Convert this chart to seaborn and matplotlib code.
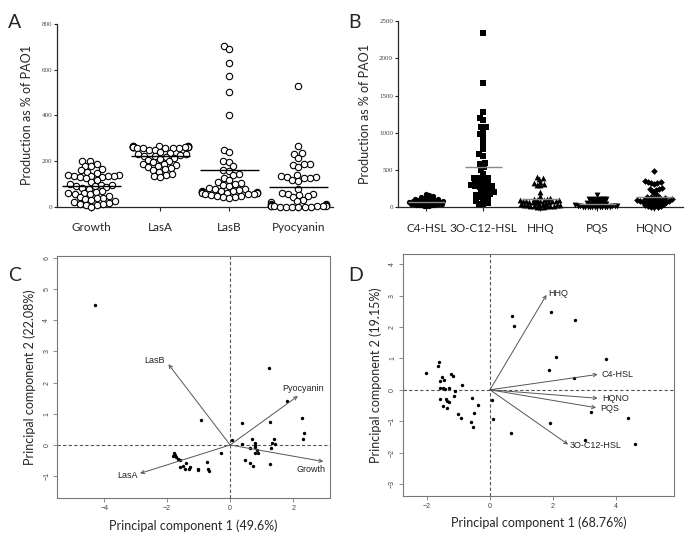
import warnings
import numpy as np
import pandas as pd
import matplotlib
matplotlib.use('Agg')
import matplotlib.pyplot as plt
import seaborn as sns

warnings.filterwarnings('ignore')

# ---- Panel A: virulence phenotypes (% of PAO1) ----
cats_a = ['Growth', 'LasA', 'LasB', 'Pyocyanin']
growth = [203, 200, 188, 180, 178, 165, 160, 155, 150, 140, 138, 137, 136, 135, 134,
          133, 130, 125, 120, 110, 100, 98, 95, 92, 90, 88, 85, 80, 70, 65, 62, 60,
          58, 55, 50, 45, 40, 38, 35, 30, 25, 20, 18, 15, 12, 10, 8, 2]
lasa = [268, 267, 266, 265, 265, 264, 264, 263, 263, 262, 262, 261, 261, 260, 260,
        259, 258, 258, 250, 248, 240, 235, 232, 230, 228, 225, 222, 220, 215, 210,
        205, 200, 195, 190, 188, 185, 180, 175, 170, 165, 160, 155, 145, 140, 135, 130]
lasb = [703, 692, 630, 573, 503, 402, 250, 242, 200, 196, 178, 160, 158, 142, 138,
        125, 118, 108, 103, 100, 95, 90, 85, 80, 78, 75, 72, 70, 68, 66, 65, 64, 63,
        62, 61, 60, 58, 56, 55, 52, 50, 48, 45, 42, 40]
pyocyanin = [530, 268, 236, 232, 214, 190, 188, 185, 175, 140, 135, 133, 130, 128,
             125, 120, 115, 78, 62, 58, 55, 52, 48, 45, 30, 25, 20, 15, 12, 10, 8, 7,
             6, 5, 5, 4, 3, 3, 2, 2, 1, 1, 0, 0]

# ---- Panel B: quorum sensing signals (% of PAO1) ----
cats_b = ['C4-HSL', '3O-C12-HSL', 'HHQ', 'PQS', 'HQNO']
c4hsl = [185, 160, 150, 145, 140, 130, 125, 120, 115, 110, 105, 100, 98, 95, 92, 90,
         88, 85, 82, 80, 78, 75, 72, 70, 68, 65, 62, 60, 58, 55, 52, 50, 48, 45, 42,
         40, 38, 35, 32, 30, 28, 25, 22, 20, 15]
oc12hsl = [2340, 1675, 1280, 1205, 1170, 1080, 1075, 1030, 985, 950, 860, 780, 715,
           690, 600, 580, 545, 500, 450, 400, 400, 395, 390, 340, 330, 320, 310, 300,
           290, 280, 270, 260, 250, 210, 200, 180, 170, 160, 145, 130, 110, 90, 60, 50, 40]
hhq = [410, 390, 380, 340, 320, 310, 300, 295, 200, 150, 120, 110, 105, 100, 98, 95,
       92, 90, 88, 85, 82, 80, 75, 70, 65, 60, 55, 50, 45, 40, 35, 30, 28, 25, 22, 20,
       18, 15, 12, 10, 8, 5]
pqs = [160, 115, 112, 110, 108, 105, 100, 95, 90, 85, 80, 75, 70, 65, 60, 55, 50, 45,
       40, 38, 35, 32, 30, 28, 25, 22, 20, 18, 15, 12, 10, 8, 6, 5, 4, 3, 2, 2, 1, 1, 0, 0]
hqno = [490, 350, 345, 335, 330, 320, 310, 255, 250, 240, 230, 215, 190, 160, 145,
        140, 130, 125, 120, 115, 110, 105, 100, 98, 95, 90, 88, 85, 80, 75, 70, 65,
        60, 55, 50, 45, 40, 30, 20, 15, 10, 8, 5]
markers_b = ['o', 's', '^', 'v', 'D']
msize_b = [3.8, 3.8, 4.2, 4.2, 3.4]
swarm_size_b = [1.8, 3.1, 2.3, 1.7, 2.3]

# ---- Panel C: PCA of phenotypes ----
pc1_c = [-4.29, 1.22, 1.80, 2.28, 2.35, 2.31, 1.27, 0.39, -0.93, 0.05, 0.37, 0.69,
         0.79, 0.79, 0.79, 0.63, 0.85, 0.79, 0.87, 1.38, 1.32, 1.43, 1.29, 1.27, 0.46,
         0.63, 0.74, -0.30, -0.74, -0.69, -0.66, -1.01, -1.32, -1.59, -1.43, -1.41,
         -1.27, -1.78, -1.75, -1.71, -1.80, -1.59, -1.50, -1.66, -1.01]
pc2_c = [4.49, 2.46, 1.42, 0.88, 0.37, 0.18, 0.75, 0.72, 0.80, 0.16, 0.04, 0.18,
         0.07, 0.00, -0.05, -0.09, -0.16, -0.25, -0.27, 0.18, 0.05, 0.03, -0.11, -0.61,
         -0.48, -0.57, -0.67, -0.25, -0.56, -0.78, -0.83, -0.77, -0.77, -0.70, -0.78,
         -0.57, -0.72, -0.27, -0.32, -0.40, -0.35, -0.48, -0.67, -0.46, -0.80]
load_names_c = ['LasB', 'Pyocyanin', 'Growth', 'LasA']
load_x_c = [-1.96, 2.15, 2.96, -2.86]
load_y_c = [2.59, 1.57, -0.53, -0.91]

# ---- Panel D: PCA of signals ----
pc1_d = [0.70, 0.77, -2.04, -1.62, -1.66, -1.52, -1.45, -1.60, -1.24, -1.19, -0.90,
         -1.60, -1.48, -1.42, -1.32, -1.10, -1.14, -1.58, -1.40, -1.38, -1.32, -1.48,
         -1.37, -0.56, -0.39, -0.50, -1.01, -0.91, -0.59, -0.55, 0.07, 0.11, 0.68,
         1.94, 2.70, 2.10, 1.89, 3.69, 2.68, 3.21, 4.39, 1.90, 3.04, 4.63]
pc2_d = [2.36, 2.04, 0.52, 0.87, 0.76, 0.40, 0.32, 0.27, 0.49, 0.44, 0.15, 0.06, 0.06,
         0.04, 0.07, -0.04, -0.21, -0.28, -0.28, -0.37, -0.38, -0.52, -0.58, -0.25,
         -0.47, -0.75, -0.77, -0.90, -1.02, -1.18, -0.33, -0.93, -1.36, 2.47, 2.22,
         1.03, 0.64, 0.97, 0.37, -0.72, -0.91, -1.06, -1.60, -1.72]
load_names_d = ['HHQ', 'C4-HSL', 'HQNO', 'PQS', '3O-C12-HSL']
load_x_d = [1.80, 3.43, 3.43, 3.38, 2.49]
load_y_d = [3.02, 0.49, -0.27, -0.57, -1.74]

sns.set_style('ticks')
plt.rcParams['font.family'] = ['Lato', 'DejaVu Sans']

fig = plt.figure(figsize=(6.85, 5.4), dpi=100)
ax_a = fig.add_axes([0.0832, 0.6167, 0.4029, 0.3389])
ax_b = fig.add_axes([0.5810, 0.6161, 0.4160, 0.3446])
ax_c = fig.add_axes([0.0836, 0.0772, 0.3981, 0.4487])
ax_d = fig.add_axes([0.5883, 0.0820, 0.3961, 0.4476])


def freeze_swarms(colls, sizes):
    # run the beeswarm layout once with small markers, then keep those
    # positions and show the markers bigger (overlapping, as in Prism)
    fig.canvas.draw()
    for coll, s in zip(colls, sizes):
        if 'draw' in coll.__dict__:
            del coll.draw
        coll.set_sizes([s ** 2])
        coll.set_clip_on(False)


# --- A ---
df_a = pd.DataFrame({
    'measure': sum([[c] * len(v) for c, v in zip(cats_a, [growth, lasa, lasb, pyocyanin])], []),
    'value': growth + lasa + lasb + pyocyanin,
})
ax_a.set_ylim(0, 800)
n0 = len(ax_a.collections)
sns.swarmplot(data=df_a, x='measure', y='value', order=cats_a, ax=ax_a,
              color='white', edgecolor='black', linewidth=0.8, size=3.4)
colls_a = ax_a.collections[n0:]
ax_a.set_xlim(-0.5, 3.5)
ax_a.set_ylim(0, 800)
freeze_swarms(colls_a, [4.6] * len(colls_a))
for i, c in enumerate(cats_a):
    m = df_a.loc[df_a.measure == c, 'value'].mean()
    ax_a.hlines(m, i - 0.43, i + 0.43, color='black', lw=1.0, zorder=5)
ax_a.set_yticks([0, 200, 400, 600, 800])
ax_a.set_xlabel('')
ax_a.set_ylabel('Production as % of PAO1', fontsize=9, labelpad=6)

# --- B ---
vals_b = [c4hsl, oc12hsl, hhq, pqs, hqno]
ax_b.set_ylim(0, 2500)
colls_b, sizes_b = [], []
for c, v, mk, ss, ms in zip(cats_b, vals_b, markers_b, swarm_size_b, msize_b):
    n0 = len(ax_b.collections)
    sns.swarmplot(x=[c] * len(v), y=v, order=cats_b, ax=ax_b, marker=mk,
                  color='black', linewidth=0, size=ss)
    new = [cl for cl in ax_b.collections[n0:] if len(cl.get_offsets()) > 0]
    colls_b += new
    sizes_b += [ms] * len(new)
ax_b.set_xlim(-0.5, 4.5)
ax_b.set_ylim(0, 2500)
freeze_swarms(colls_b, sizes_b)
for i, v in enumerate(vals_b):
    ax_b.hlines(np.mean(v), i - 0.32, i + 0.32, color='#888888', lw=1.0, zorder=5)
ax_b.set_yticks([0, 500, 1000, 1500, 2000, 2500])
ax_b.set_xlabel('')
ax_b.set_ylabel('Production as % of PAO1', fontsize=9, labelpad=6)

for ax in (ax_a, ax_b):
    sns.despine(ax=ax)
    ax.spines['left'].set_linewidth(0.9)
    ax.spines['bottom'].set_linewidth(0.9)
    ax.tick_params(axis='x', labelsize=8.5, length=3, width=0.8, pad=8)
    ax.tick_params(axis='y', length=2.5, width=0.8, pad=1)
    for t in ax.get_yticklabels():
        t.set_fontfamily('Liberation Serif')
        t.set_fontsize(5)
        t.set_color('#444444')
for t in ax_b.get_xticklabels():
    t.set_fontfamily(['Liberation Sans Narrow', 'Lato'])
    t.set_fontsize(8.5)


def biplot(ax, xs, ys, names, lx, ly, label_pos):
    ax.axhline(0, color='#555555', lw=0.8, ls=(0, (3, 2)), zorder=1)
    ax.axvline(0, color='#555555', lw=0.8, ls=(0, (3, 2)), zorder=1)
    sns.scatterplot(x=xs, y=ys, ax=ax, color='black', s=6, linewidth=0, zorder=3)
    for n, x, y in zip(names, lx, ly):
        ax.annotate('', xy=(x, y), xytext=(0, 0),
                    arrowprops=dict(arrowstyle='->', color='#555555', lw=0.7,
                                    shrinkA=0, shrinkB=0, mutation_scale=6))
        dx, dy, ha = label_pos[n]
        ax.text(x + dx, y + dy, n, ha=ha, va='center', fontsize=6.5,
                family=['Liberation Sans', 'DejaVu Sans'], color='#222222')
    for s in ax.spines.values():
        s.set_visible(True)
        s.set_color('#777777')
        s.set_linewidth(0.8)
    ax.tick_params(length=3, width=0.6, color='#777777', labelsize=5,
                   labelcolor='#444444', pad=2)
    for t in ax.get_yticklabels():
        t.set_rotation(90)
        t.set_va('center')
    for t in ax.get_xticklabels() + ax.get_yticklabels():
        t.set_fontfamily(['Liberation Sans', 'DejaVu Sans'])


lab_c = {'LasB': (-0.12, 0.12, 'right'), 'Pyocyanin': (0.15, 0.25, 'center'),
         'Growth': (-0.38, -0.25, 'center'), 'LasA': (-0.06, -0.07, 'right')}
biplot(ax_c, pc1_c, pc2_c, load_names_c, load_x_c, load_y_c, lab_c)
ax_c.set_xlim(-5.49, 3.17)
ax_c.set_ylim(-1.71, 6.06)
ax_c.set_xticks([-4, -2, 0, 2])
ax_c.set_yticks([-1, 0, 1, 2, 3, 4, 5, 6])
ax_c.set_xlabel('Principal component 1 (49.6%)', fontsize=9, labelpad=5)
ax_c.set_ylabel('Principal component 2 (22.08%)', fontsize=9, labelpad=5)

lab_d = {'HHQ': (0.05, 0.05, 'left'), 'C4-HSL': (0.13, 0.0, 'left'),
         'HQNO': (0.15, 0.0, 'left'), 'PQS': (0.14, -0.04, 'left'),
         '3O-C12-HSL': (0.06, -0.04, 'left')}
biplot(ax_d, pc1_d, pc2_d, load_names_d, load_x_d, load_y_d, lab_d)
ax_d.set_xlim(-2.77, 5.87)
ax_d.set_ylim(-3.37, 4.32)
ax_d.set_xticks([-2, 0, 2, 4])
ax_d.set_yticks([-3, -2, -1, 0, 1, 2, 3, 4])
ax_d.set_xlabel('Principal component 1 (68.76%)', fontsize=9, labelpad=5)
ax_d.set_ylabel('Principal component 2 (19.15%)', fontsize=9, labelpad=5)

for letter, (x, y) in zip('ABCD', [(0.012, 0.975), (0.508, 0.975), (0.012, 0.505), (0.508, 0.505)]):
    fig.text(x, y, letter, fontsize=14, ha='left', va='top')

fig.savefig('out.png', dpi=100)
